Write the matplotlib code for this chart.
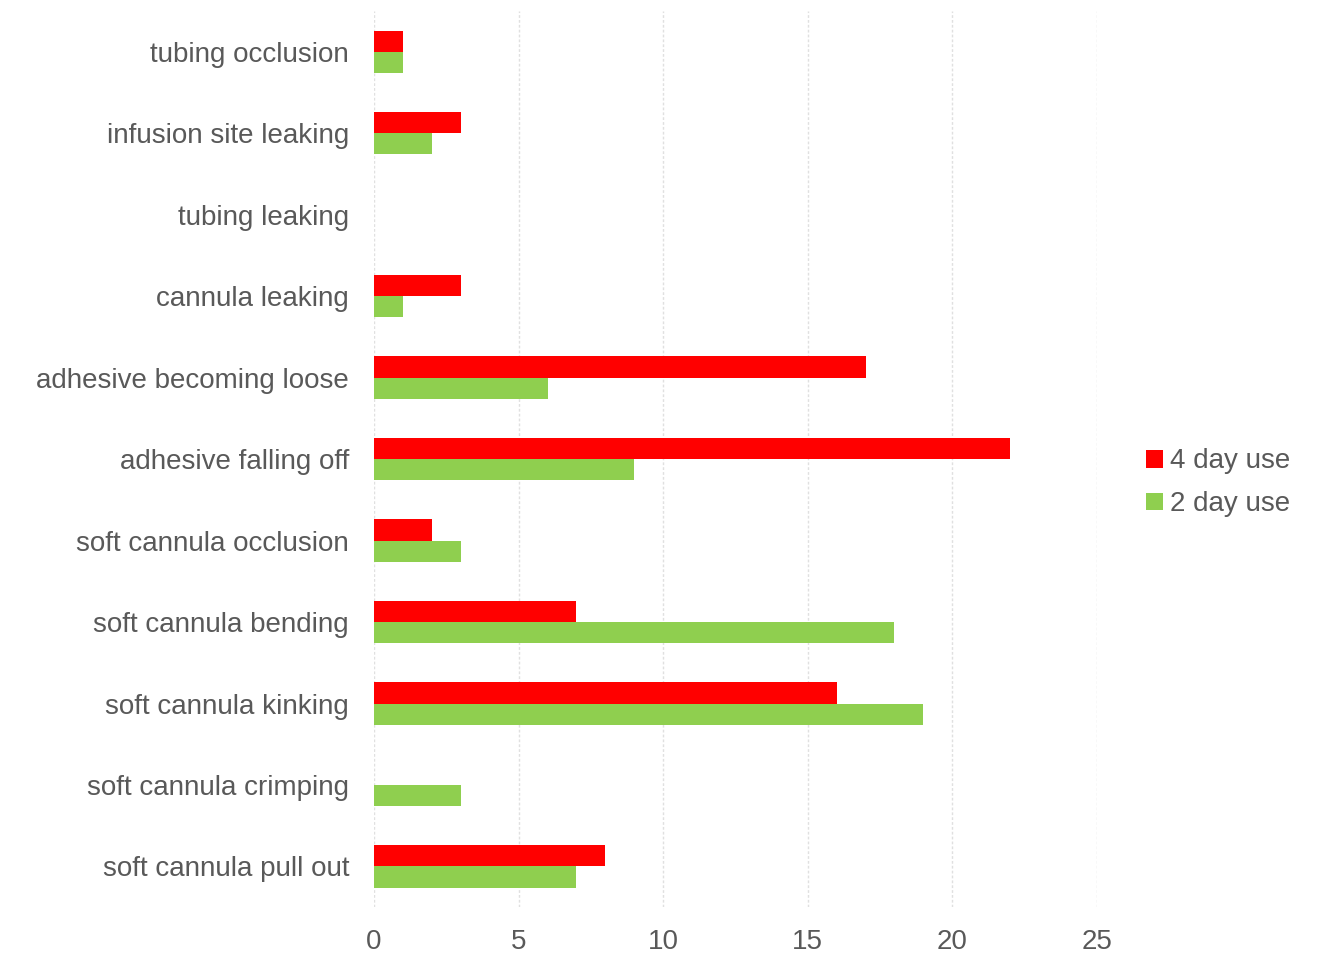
import matplotlib
matplotlib.use("Agg")
import matplotlib.pyplot as plt
import numpy as np

categories = ["tubing occlusion", "infusion site leaking", "tubing leaking",
              "cannula leaking", "adhesive becoming loose", "adhesive falling off",
              "soft cannula occlusion", "soft cannula bending", "soft cannula kinking",
              "soft cannula crimping", "soft cannula pull out"]
four_day = [1, 3, 0, 3, 17, 22, 2, 7, 16, 0, 8]
two_day = [1, 2, 0, 1, 6, 9, 3, 18, 19, 3, 7]
xticks = [0, 5, 10, 15, 20, 25]

plt.rcParams["font.family"] = ["Liberation Sans", "DejaVu Sans"]
text_color = "#595959"

fig = plt.figure(figsize=(13.19, 9.57), dpi=100)
ax = fig.add_axes([0.2836, 0.052, 0.548, 0.9365])

y = np.arange(len(categories))
h = 0.26
ax.barh(y - h / 2, four_day, height=h, color="#ff0000", label="4 day use", zorder=3)
ax.barh(y + h / 2, two_day, height=h, color="#8fcf4f", label="2 day use", zorder=3)

ax.set_ylim(len(categories) - 0.5, -0.5)
ax.set_xlim(0, 25)
ax.set_yticks(y)
ax.set_yticklabels(categories)
ax.set_xticks(xticks)
ax.tick_params(axis="both", length=0, labelsize=20, colors=text_color)
ax.tick_params(axis="y", pad=18)
ax.tick_params(axis="x", pad=16)
ax.xaxis.grid(True, color="#e0e0e0", linestyle=(0, (2, 1.5)), linewidth=1, zorder=0)
for s in ax.spines.values():
    s.set_visible(False)

fig.legend(loc="center left", bbox_to_anchor=(0.85, 0.4955), frameon=False,
           fontsize=20, labelcolor=text_color, handlelength=0.6, handleheight=0.6,
           handletextpad=0.25, labelspacing=0.6)

fig.savefig("out.png", dpi=100)
